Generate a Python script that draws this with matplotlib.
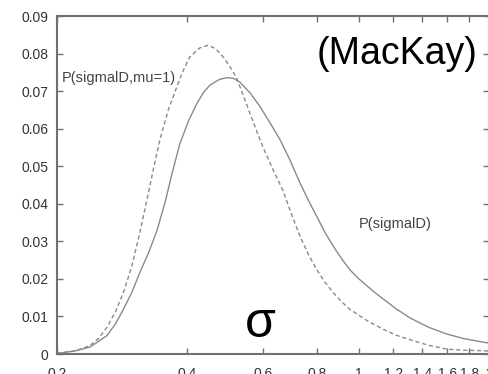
import numpy as np
import matplotlib.pyplot as plt
from matplotlib.ticker import FixedLocator, FixedFormatter, NullLocator

plt.rcParams['font.family'] = ['Liberation Sans', 'DejaVu Sans']

# P(sigma|D) - solid curve
sig_solid = [0.2, 0.222, 0.239, 0.261, 0.273, 0.285, 0.298, 0.311, 0.326, 0.341,
             0.356, 0.370, 0.385, 0.403, 0.421, 0.437, 0.452, 0.475, 0.494, 0.512,
             0.530, 0.560, 0.590, 0.623, 0.657, 0.690, 0.730, 0.763, 0.798, 0.833,
             0.871, 0.910, 0.953, 1.0, 1.042, 1.090, 1.137, 1.22, 1.313, 1.45,
             1.599, 1.75, 1.906, 2.0]
p_solid = [0.0001, 0.0009, 0.0019, 0.0049, 0.0080, 0.0119, 0.0164, 0.0217, 0.0270, 0.0330,
           0.0405, 0.0485, 0.0560, 0.0620, 0.0666, 0.0697, 0.0716, 0.0731, 0.0736, 0.0734,
           0.0724, 0.0695, 0.0659, 0.0615, 0.0570, 0.0520, 0.0456, 0.0410, 0.0367, 0.0325,
           0.0288, 0.0255, 0.0224, 0.0200, 0.0182, 0.0163, 0.0147, 0.0120, 0.0096, 0.0071,
           0.0053, 0.0041, 0.0033, 0.0029]

# P(sigma|D, mu=1) - dashed curve
sig_dash = [0.2, 0.22, 0.238, 0.25, 0.261, 0.273, 0.285, 0.298, 0.311, 0.323,
            0.334, 0.346, 0.362, 0.379, 0.392, 0.406, 0.428, 0.447, 0.466, 0.485,
            0.503, 0.521, 0.540, 0.559, 0.580, 0.600, 0.633, 0.667, 0.698, 0.730,
            0.763, 0.798, 0.833, 0.871, 0.910, 0.953, 1.04, 1.137, 1.22, 1.313,
            1.45, 1.599, 1.75, 1.906, 2.0]
p_dash = [0.0002, 0.0008, 0.0022, 0.0042, 0.0071, 0.0112, 0.0164, 0.0234, 0.0323, 0.0410,
          0.0490, 0.0570, 0.0650, 0.0712, 0.0755, 0.0791, 0.0815, 0.0822, 0.0813, 0.0791,
          0.0765, 0.0735, 0.0688, 0.0642, 0.0593, 0.0550, 0.0490, 0.0435, 0.0372, 0.0314,
          0.0266, 0.0225, 0.0192, 0.0164, 0.0140, 0.0119, 0.0090, 0.0066, 0.0050, 0.0038,
          0.0023, 0.0013, 0.0010, 0.0009, 0.0008]

xticks = [0.2, 0.4, 0.6, 0.8, 1, 1.2, 1.4, 1.6, 1.8, 2]
xlabels = ['0.2', '0.4', '0.6', '0.8', '1', '1.2', '1.4', '1.6', '1.8', '2']
yticks = [0, 0.01, 0.02, 0.03, 0.04, 0.05, 0.06, 0.07, 0.08, 0.09]
ylabels = ['0', '0.01', '0.02', '0.03', '0.04', '0.05', '0.06', '0.07', '0.08', '0.09']

fig = plt.figure(figsize=(4.89, 3.74), dpi=100)
ax = fig.add_axes([57 / 489, 20 / 374, 432 / 489, 338 / 374])

ax.plot(sig_solid, p_solid, color='#8a8a8a', lw=1.0)
ax.plot(sig_dash, p_dash, color='#8a8a8a', lw=1.0, dashes=(3, 2))

ax.set_xscale('log')
ax.set_xlim(0.2, 2)
ax.set_ylim(0, 0.09)
ax.xaxis.set_major_locator(FixedLocator(xticks))
ax.xaxis.set_major_formatter(FixedFormatter(xlabels))
ax.xaxis.set_minor_locator(NullLocator())
ax.set_yticks(yticks)
ax.set_yticklabels(ylabels)

ax.tick_params(direction='in', top=True, right=True, length=4, width=1,
               color='#707070', labelsize=10, labelcolor='#333333')
ax.tick_params(axis='y', pad=6)
ax.tick_params(axis='x', pad=9)
for s in ax.spines.values():
    s.set_color('#707070')
    s.set_linewidth(1.5)

ax.text(0.2054, 0.0735, 'P(sigmalD,mu=1)', fontsize=10.5, color='#444444', va='center')
ax.text(1.0, 0.0347, 'P(sigmalD)', fontsize=10.5, color='#444444', va='center')
ax.text(0.9745, 0.941, '(MacKay)', transform=ax.transAxes, fontsize=27,
        ha='right', va='top', color='black')
ax.text(0.59, 0.0045, 'σ', fontsize=36, color='black', ha='center', va='baseline')

fig.savefig('out.png', dpi=100)
